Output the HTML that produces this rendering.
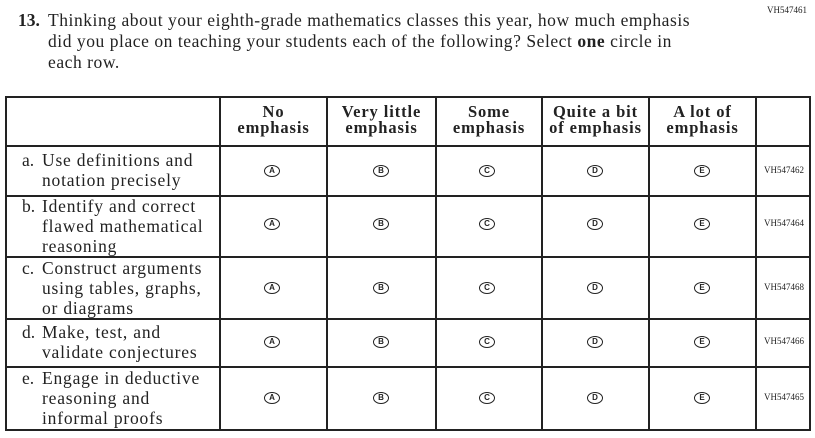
<!DOCTYPE html>
<html><head><style>
body{margin:0;width:815px;height:438px;background:#fff;position:relative;overflow:hidden;font-family:"Liberation Serif",serif;color:#222}
.a{position:absolute}
.h{position:absolute;background:#222}
.q{font-size:17.5px;line-height:21px;letter-spacing:0.55px}
.hd{position:absolute;top:104px;font-weight:bold;font-size:16.5px;line-height:16px;text-align:center;letter-spacing:0.9px}
.r{position:absolute;left:22px;font-size:17.5px;line-height:20px;letter-spacing:0.8px}
.r span{display:inline-block;width:20px;letter-spacing:0}
.r div{padding-left:20px}
.b{position:absolute;width:14px;height:10px;border:1.5px solid #222;border-radius:50%;font-size:8px;line-height:10px;text-align:center;font-family:"Liberation Sans",sans-serif;font-weight:bold}
.vh{position:absolute;left:758px;font-size:9px;width:52px;text-align:center}
</style></head><body>
<div class="a" style="left:767px;top:5px;font-size:9px">VH547461</div>
<div class="a q" style="left:18px;top:10px;font-weight:bold;letter-spacing:0">13.</div>
<div class="a q" style="left:48px;top:10px">Thinking about your eighth-grade mathematics classes this year, how much emphasis<br>did you place on teaching your students each of the following? Select <b>one</b> circle in<br>each row.</div>
<div class="h" style="left:5px;top:96px;width:806px;height:2px"></div>
<div class="h" style="left:5px;top:145px;width:806px;height:2px"></div>
<div class="h" style="left:5px;top:195px;width:806px;height:2px"></div>
<div class="h" style="left:5px;top:256px;width:806px;height:2px"></div>
<div class="h" style="left:5px;top:318px;width:806px;height:2px"></div>
<div class="h" style="left:5px;top:366px;width:806px;height:2px"></div>
<div class="h" style="left:5px;top:429px;width:806px;height:2px"></div>
<div class="h" style="left:5px;top:96px;width:2px;height:335px"></div>
<div class="h" style="left:219px;top:96px;width:2px;height:335px"></div>
<div class="h" style="left:326px;top:96px;width:2px;height:335px"></div>
<div class="h" style="left:435px;top:96px;width:2px;height:335px"></div>
<div class="h" style="left:541px;top:96px;width:2px;height:335px"></div>
<div class="h" style="left:648px;top:96px;width:2px;height:335px"></div>
<div class="h" style="left:755px;top:96px;width:2px;height:335px"></div>
<div class="h" style="left:809px;top:96px;width:2px;height:335px"></div>
<div class="hd" style="left:221px;width:105px">No<br>emphasis</div>
<div class="hd" style="left:328px;width:107px">Very little<br>emphasis</div>
<div class="hd" style="left:437px;width:104px">Some<br>emphasis</div>
<div class="hd" style="left:543px;width:105px">Quite a bit<br>of emphasis</div>
<div class="hd" style="left:650px;width:105px">A lot of<br>emphasis</div>
<div class="r" style="top:150px"><span>a.</span>Use definitions and<div>notation precisely</div></div>
<div class="r" style="top:196px"><span>b.</span>Identify and correct<div>flawed mathematical<br>reasoning</div></div>
<div class="r" style="top:258px"><span>c.</span>Construct arguments<div>using tables, graphs,<br>or diagrams</div></div>
<div class="r" style="top:322px"><span>d.</span>Make, test, and<div>validate conjectures</div></div>
<div class="r" style="top:368px"><span>e.</span>Engage in deductive<div>reasoning and<br>informal proofs</div></div>
<div id="bub"></div>
<script>
var ys=[171,224,288,342,398],xs=[272,381,487,595,702],L="ABCDE",vh=["VH547462","VH547464","VH547468","VH547466","VH547465"],h="";
ys.forEach(function(y,i){xs.forEach(function(x,j){h+='<div class="b" style="left:'+(x-8)+'px;top:'+(y-6)+'px">'+L[j]+'</div>';});h+='<div class="vh" style="top:'+(y-6)+'px">'+vh[i]+'</div>';});
document.getElementById("bub").innerHTML=h;
</script>
</body></html>
